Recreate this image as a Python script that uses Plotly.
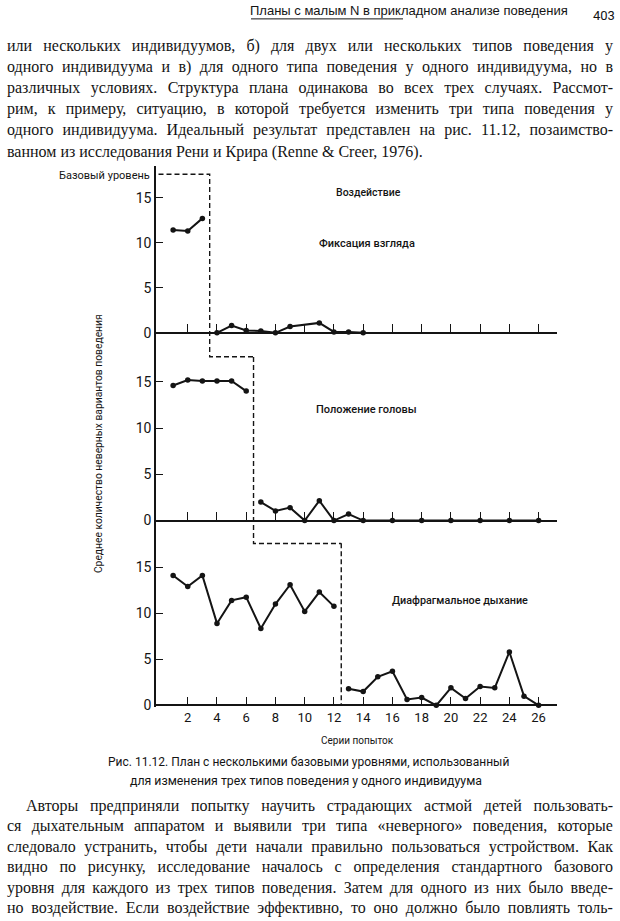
import plotly.graph_objects as go

# ---------------- data ----------------
x_tick_vals = list(range(2, 27, 2))
x_tick_text = [str(v) for v in x_tick_vals]
y_tick_vals = [0, 5, 10, 15]
y_tick_text = ["0", "5", "10", "15"]

gaze_base_x = [1, 2, 3]
gaze_base_y = [11.4, 11.3, 12.7]
gaze_trt_x = [4, 5, 6, 7, 8, 9, 11, 12, 13, 14]
gaze_trt_y = [0.0, 0.8, 0.25, 0.2, 0.0, 0.7, 1.1, 0.1, 0.1, 0.0]

head_base_x = [1, 2, 3, 4, 5, 6]
head_base_y = [14.6, 15.2, 15.1, 15.1, 15.1, 14.0]
head_trt_x = [7, 8, 9, 10, 11, 12, 13, 14, 16, 18, 20, 22, 24, 26]
head_trt_y = [2.0, 1.05, 1.4, 0.0, 2.15, 0.0, 0.7, 0.0, 0.0, 0.0, 0.0, 0.0, 0.0, 0.0]

breath_base_x = [1, 2, 3, 4, 5, 6, 7, 8, 9, 10, 11, 12]
breath_base_y = [14.1, 12.9, 14.1, 8.9, 11.4, 11.75, 8.35, 11.0, 13.1, 10.2, 12.3, 10.75]
breath_trt_x = [13, 14, 15, 16, 17, 18, 19, 20, 21, 22, 23, 24, 25, 26]
breath_trt_y = [1.8, 1.5, 3.1, 3.7, 0.65, 0.85, 0.0, 1.9, 0.75, 2.05, 1.9, 5.8, 1.0, 0.0]

# phase-change (baseline -> intervention) dashed line, per panel
phase_top_x = [0.0, 3.5, 3.5, 6.5]
phase_top_y = [17.6, 17.6, -2.65, -2.65]
phase_mid_x = [6.5, 6.5, 12.5]
phase_mid_y = [17.7, -2.47, -2.47]
phase_bot_x = [12.5, 12.5]
phase_bot_y = [17.6, 0.0]

panel_names = ["Фиксация взгляда", "Положение головы", "Диафрагмальное дыхание"]

para1 = [
    "или нескольких индивидуумов, б) для двух или нескольких типов поведения у",
    "одного индивидуума и в) для одного типа поведения у одного индивидуума, но в",
    "различных условиях. Структура плана одинакова во всех трех случаях. Рассмот-",
    "рим, к примеру, ситуацию, в которой требуется изменить три типа поведения у",
    "одного индивидуума. Идеальный результат представлен на рис. 11.12, позаимство-",
    "ванном из исследования Рени и Крира (Renne & Creer, 1976).",
]
para2 = [
    "Авторы предприняли попытку научить страдающих астмой детей пользовать-",
    "ся дыхательным аппаратом и выявили три типа «неверного» поведения, которые",
    "следовало устранить, чтобы дети начали правильно пользоваться устройством. Как",
    "видно по рисунку, исследование началось с определения стандартного базового",
    "уровня для каждого из трех типов поведения. Затем для одного из них было введе-",
    "но воздействие. Если воздействие эффективно, то оно должно было повлиять толь-",
]

# ---------------- layout geometry (pixels) ----------------
W, H = 620, 921
CHART = "Roboto, Liberation Sans, Arial, sans-serif"
SERIF = "Liberation Serif, Times New Roman, serif"
SANS = "Liberation Sans, Arial, sans-serif"
INK = "#141414"

x_left_px, x_right_px = 156, 557
x_zero_px, x_unit_px = 158.5, 14.62
x_range = [(x_left_px - x_zero_px) / x_unit_px, (x_right_px - x_zero_px) / x_unit_px]

panels = [
    dict(zero=335, unit=9.07, top=167, bot=365),
    dict(zero=524, unit=9.31, top=352, bot=553),
    dict(zero=710, unit=9.27, top=540, bot=712),
]


def px_x(p):
    return p / W


def px_y(p):
    return 1 - p / H


fig = go.Figure()

series = [
    (gaze_base_x, gaze_base_y, gaze_trt_x, gaze_trt_y, phase_top_x, phase_top_y),
    (head_base_x, head_base_y, head_trt_x, head_trt_y, phase_mid_x, phase_mid_y),
    (breath_base_x, breath_base_y, breath_trt_x, breath_trt_y, phase_bot_x, phase_bot_y),
]

layout_axes = {}
for i, (p, s) in enumerate(zip(panels, series)):
    n = "" if i == 0 else str(i + 1)
    xa, ya = "x" + n, "y" + n
    bx, by, tx, ty, phx, phy = s
    fig.add_trace(go.Scatter(x=phx, y=phy, xaxis=xa, yaxis=ya, mode="lines",
                             line=dict(color=INK, width=1.4, dash="5px,3px"),
                             hoverinfo="skip", showlegend=False))
    for xs, ys in ((bx, by), (tx, ty)):
        fig.add_trace(go.Scatter(x=xs, y=ys, xaxis=xa, yaxis=ya, mode="lines+markers",
                                 line=dict(color=INK, width=2),
                                 marker=dict(color=INK, size=5.5),
                                 cliponaxis=False, showlegend=False,
                                 name=panel_names[i]))
    layout_axes["xaxis" + n] = dict(
        domain=[px_x(x_left_px), px_x(x_right_px)], range=x_range,
        anchor="free", position=px_y(p["zero"]),
        showline=True, linecolor=INK, linewidth=1.6,
        ticks="inside", ticklen=8, tickwidth=1.2, tickcolor=INK,
        tickvals=x_tick_vals, ticktext=x_tick_text,
        showticklabels=(i == 2), showgrid=False, zeroline=False,
        tickfont=dict(family=CHART, size=13, color=INK),
        fixedrange=True,
    )
    layout_axes["yaxis" + n] = dict(
        domain=[px_y(p["bot"]), px_y(p["top"])],
        range=[(p["zero"] - p["bot"]) / p["unit"], (p["zero"] - p["top"]) / p["unit"]],
        anchor=xa, showline=True, linecolor=INK, linewidth=1.6,
        ticks="inside", ticklen=7, tickwidth=1.2, tickcolor=INK,
        tickvals=y_tick_vals, ticktext=y_tick_text,
        showgrid=False, zeroline=False,
        tickfont=dict(family=CHART, size=14, color=INK),
        fixedrange=True,
    )

ann = []


def add(text, x, y, size, family, xanchor="center", yanchor="middle", angle=0, weight=400):
    ann.append(dict(text=text, x=px_x(x), y=px_y(y), xref="paper", yref="paper",
                    xanchor=xanchor, yanchor=yanchor, showarrow=False, textangle=angle,
                    align="left",
                    font=dict(family=family, size=size, color=INK, weight=weight)))


# running header
add("Планы с малым N в прикладном анализе поведения", 570, 11, 13, SANS, xanchor="right")
add("403", 604, 16, 13, CHART)

# body text
for k, line in enumerate(para1):
    add(line, 5, 46 + k * 21.3, 16, SERIF, xanchor="left")
for k, line in enumerate(para2):
    add(line, 24 if k == 0 else 5, 811 + k * 20.6, 16, SERIF, xanchor="left")

# chart labels
add("Базовый уровень", 152, 177, 11, CHART, xanchor="right")
add("Воздействие", 368, 194, 10.5, CHART, weight=500)
add(panel_names[0], 367, 245, 11, CHART, weight=500)
add(panel_names[1], 366, 412, 11, CHART, weight=500)
add(panel_names[2], 460, 604, 10.8, CHART, weight=500)
add("Среднее количество неверных вариантов поведения", 98, 446, 10.3, CHART, angle=-90)
add("Серии попыток", 357, 745, 10, CHART)
add("Рис. 11.12. План с несколькими базовыми уровнями, использованный", 308, 767, 12, CHART)
add("для изменения трех типов поведения у одного индивидуума", 306, 786, 12.3, CHART)

fig.update_layout(
    width=W, height=H, margin=dict(l=0, r=0, t=0, b=0),
    paper_bgcolor="white", plot_bgcolor="rgba(0,0,0,0)",
    showlegend=False, annotations=ann, hovermode=False,
    shapes=[dict(type="line", xref="paper", yref="paper",
                 x0=px_x(251), x1=px_x(403), y0=px_y(19), y1=px_y(19),
                 line=dict(color=INK, width=1))],
    **layout_axes,
)

post = """
document.body.style.margin = '0';
var gd = document.getElementById('{plot_id}');
var texts = gd.querySelectorAll('text.annotation-text');
texts.forEach(function(t){
  var fam = t.style.fontFamily || '';
  if (fam.indexOf('Serif') < 0) return;
  var s = t.textContent;
  if (s.indexOf('1976') >= 0) return;
  var n = (s.match(/ /g) || []).length;
  if (!n) return;
  var r = t.getBoundingClientRect();
  var gr = gd.getBoundingClientRect();
  var left = r.left - gr.left;
  var target = 613 - left;
  var w = t.getComputedTextLength();
  var ws = (target - w) / n;
  t.style.wordSpacing = ws.toFixed(2) + 'px';
});
"""

fig.write_html("out.html", post_script=post, config={"displayModeBar": False})
